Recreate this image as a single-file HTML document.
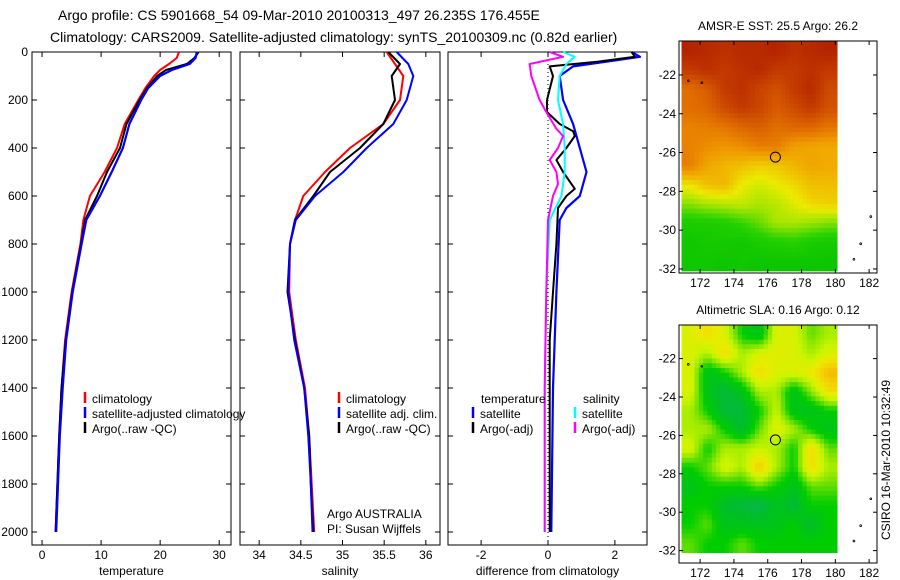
<!DOCTYPE html>
<html><head><meta charset="utf-8"><style>
html,body{margin:0;padding:0;background:#fff;}
svg{display:block;font-family:"Liberation Sans",sans-serif;}
text{font-size:12px;fill:#000;}
</style></head><body>
<svg id="fig" width="900" height="580" viewBox="0 0 900 580" xmlns="http://www.w3.org/2000/svg">
<text x="58" y="20" style="font-size:14px">Argo profile: CS 5901668_54 09-Mar-2010 20100313_497 26.235S 176.455E</text>
<text x="50" y="42" style="font-size:14px">Climatology: CARS2009. Satellite-adjusted climatology: synTS_20100309.nc (0.82d earlier)</text>
<text x="890" y="460" transform="rotate(-90 890 460)" text-anchor="middle">CSIRO 16-Mar-2010 10:32:49</text>
</svg>
<script>
// ---- profile data ----
const tDepth = [0,25,50,75,100,150,200,300,400,500,600,700,800,1000,1200,1400,1600,1800,2000];
const tempClim = [23.2,22.8,21.5,20,19,17.5,16.3,14,12.7,10.6,8.1,7,6.5,5,3.9,3.3,2.9,2.6,2.3];
const tempArgo = [26.5,25.8,24.5,21,19.5,17.8,16.5,14.3,13.2,11,9.3,7.3,6.6,5.1,4,3.3,2.9,2.6,2.3];
const tempSat  = [26.2,26,25,22,20,18,16.8,14.8,13.7,11.8,9.8,7.5,6.7,5.2,4.1,3.5,3.0,2.7,2.4];
const sDepth = [0,50,100,200,300,400,500,600,700,800,1000,1200,1400,1600,1800,2000];
const salClim = [35.53,35.63,35.73,35.69,35.49,35.09,34.79,34.53,34.43,34.37,34.36,34.44,34.55,34.6,34.63,34.66];
const salArgo = [35.55,35.69,35.59,35.63,35.49,35.21,34.85,34.65,34.43,34.37,34.34,34.43,34.54,34.6,34.62,34.65];
const salSat  = [35.65,35.79,35.85,35.77,35.61,35.29,35.01,34.67,34.44,34.37,34.35,34.42,34.54,34.59,34.62,34.64];
const dTDepth = [0,20,40,60,100,200,300,400,500,600,650,700,1000,1200,1400,2000];
const dTempSat = [2.5,2.75,1.75,0.75,0.35,0.45,0.75,0.95,1.15,0.95,0.55,0.35,0.25,0.2,0.15,0.1];
const dTADepth = [0,20,40,60,100,200,250,300,330,350,400,450,500,570,600,650,800,1000,1200,2000];
const dTempArgo = [2.5,2.6,1.5,0.05,0.15,-0.03,-0.03,0.35,0.75,0.8,0.55,0.25,0.45,0.8,0.55,0.3,0.25,0.15,0.05,0.05];
const dSDepth = [0,20,50,100,200,250,320,350,400,450,500,550,600,700,1000,1400,2000];
const dSalArgo = [0.05,0.45,-0.55,-0.5,-0.25,-0.05,0.25,0.45,0.3,0.05,0.25,0.3,0.15,0.0,-0.05,-0.1,-0.1];
const dSSDepth = [0,20,50,100,200,300,400,500,600,700,1000,1400,2000];
const dSalSat = [0.45,0.8,0.55,0.35,0.3,0.45,0.5,0.5,0.4,0.05,-0.05,-0.1,-0.1];
// ---- ticks ----
const depthTicks = [0,200,400,600,800,1000,1200,1400,1600,1800,2000];
const tempTicks = [0,10,20,30];
const salTicks = [34,34.5,35,35.5,36];
const salTickLabels = ["34","34.5","35","35.5","36"];
const diffTicks = [-2,0,2];
const lonTicks = [172,174,176,178,180,182];
const latTicks = [-22,-24,-26,-28,-30,-32];
// ---- map grids (rows north->south, 1 deg) ----
const sstGrid = [
[0.92,0.9,0.88,0.9,0.9,0.92,0.88,0.9,0.92],
[0.85,0.88,0.85,0.88,0.9,0.85,0.85,0.88,0.85],
[0.7,0.75,0.85,0.88,0.82,0.78,0.85,0.9,0.8],
[0.7,0.72,0.8,0.85,0.82,0.75,0.8,0.85,0.78],
[0.65,0.66,0.68,0.72,0.74,0.7,0.72,0.72,0.68],
[0.65,0.62,0.6,0.62,0.66,0.66,0.58,0.56,0.55],
[0.66,0.56,0.52,0.5,0.46,0.48,0.52,0.56,0.55],
[0.42,0.5,0.52,0.4,0.36,0.4,0.44,0.5,0.5],
[0.26,0.3,0.32,0.34,0.3,0.32,0.38,0.44,0.46],
[0.1,0.1,0.12,0.16,0.22,0.3,0.3,0.28,0.25],
[0.06,0.08,0.08,0.06,0.1,0.12,0.14,0.1,0.08],
[0.06,0.06,0.05,0.06,0.05,0.05,0.05,0.05,0.05]
];
const slaGrid = [
[0.6,0.7,0.6,0.3,0.2,0.6,0.6,0.4,0.5],
[0.6,0.5,0.72,0.5,0.6,0.62,0.6,0.5,0.6],
[0.6,0.2,0.3,0.5,0.72,0.6,0.6,0.65,0.85],
[0.6,0.2,0.1,0.2,0.5,0.5,0.2,0.45,0.7],
[0.5,0.3,0.1,0.1,0.3,0.55,0.2,0.2,0.3],
[0.5,0.5,0.3,0.12,0.4,0.62,0.5,0.3,0.2],
[0.6,0.3,0.5,0.5,0.55,0.5,0.3,0.72,0.4],
[0.3,0.4,0.6,0.5,0.78,0.5,0.3,0.72,0.5],
[0.2,0.3,0.3,0.3,0.4,0.3,0.2,0.4,0.4],
[0.3,0.3,0.15,0.1,0.05,0.2,0.1,0.3,0.3],
[0.3,0.4,0.2,0.2,0.2,0.2,0.3,0.12,0.3],
[0.4,0.3,0.3,0.4,0.3,0.3,0.3,0.3,0.3]
];
const argoLon = 176.455, argoLat = -26.235;

const NS = "http://www.w3.org/2000/svg";
const svg = document.getElementById('fig');
function mk(tag, attrs, parent){const e=document.createElementNS(NS,tag);for(const k in attrs)e.setAttribute(k,attrs[k]);(parent||svg).appendChild(e);return e;}
function txt(x,y,s,anchor,parent){const t=mk('text',{x:x,y:y,'text-anchor':anchor||'start'},parent);t.textContent=s;return t;}

const Y0=52, PXM=0.24, PB=545, PT=52;
function yD(d){return Y0+d*PXM;}

function panel(name,x0,x1,vmin,vmax,xt,xtl,xlabel){
  const g=mk('g',{});
  
  
  const sx=v=>x0+(v-vmin)/(vmax-vmin)*(x1-x0);
  const r=mk('rect',{x:x0,y:PT,width:x1-x0,height:PB-PT,fill:'none',stroke:'#000','stroke-width':1},g);
  
  
  xt.forEach((v,i)=>{
    const x=sx(v);
    mk('line',{x1:x,x2:x,y1:PB,y2:PB-5,stroke:'#000'},g);
    mk('line',{x1:x,x2:x,y1:PT,y2:PT+5,stroke:'#000'},g);
    const t=txt(x,559,xtl[i],'middle',g);
    
    
  });
  depthTicks.forEach(d=>{
    const y=yD(d);
    mk('line',{x1:x0,x2:x0+5,y1:y,y2:y,stroke:'#000'},g);
    mk('line',{x1:x1,x2:x1-5,y1:y,y2:y,stroke:'#000'},g);
  });
  const xl=txt((x0+x1)/2,575,xlabel,'middle',g);
  
  
  return {g,sx};
}
function line(p,depths,vals,color,w,name){
  const pts=depths.map((d,i)=>p.sx(vals[i]).toFixed(1)+','+yD(d).toFixed(1)).join(' ');
  const l=mk('polyline',{points:pts,fill:'none',stroke:color,'stroke-width':w,'stroke-linejoin':'round'},p.g);
  
  
}
function legend(p,x,y,color,label,name){
  mk('line',{x1:x,x2:x,y1:y-11,y2:y,stroke:color,'stroke-width':2.5},p.g);
  const t=txt(x+7,y,label,'start',p.g);
  
  
}

depthTicks.forEach(d=>{
  const t=txt(28,yD(d)+4,String(d),'end');
  
  
});

const p1=panel('temperature-panel',32,231,-1.7,32,tempTicks,tempTicks.map(String),'temperature');
line(p1,tDepth,tempClim,'#f00',2,'temp-climatology-line');
line(p1,tDepth,tempArgo,'#000',2,'temp-argo-line');
line(p1,tDepth,tempSat,'#00f',2.2,'temp-satellite-line');
legend(p1,85,403,'#f00','climatology','legend-climatology');
legend(p1,85,418,'#00f','satellite-adjusted climatology','legend-satellite-adjusted');
legend(p1,85,433,'#000','Argo(..raw -QC)','legend-argo');

const p2=panel('salinity-panel',240,440,33.77,36.17,salTicks,salTickLabels,'salinity');
line(p2,sDepth,salClim,'#f00',2,'sal-climatology-line');
line(p2,sDepth,salArgo,'#000',2,'sal-argo-line');
line(p2,sDepth,salSat,'#00f',2,'sal-satellite-line');
legend(p2,339,403,'#f00','climatology','legend-sal-climatology');
legend(p2,339,418,'#00f','satellite adj. clim.','legend-sal-satellite');
legend(p2,339,433,'#000','Argo(..raw -QC)','legend-sal-argo');
const a1=txt(327,518,'Argo AUSTRALIA','start',p2.g);


const a2=txt(327,533,'PI: Susan Wijffels','start',p2.g);



const p3=panel('difference-panel',448,647,-2.99,2.96,diffTicks,diffTicks.map(String),'difference from climatology');
mk('line',{x1:p3.sx(0),x2:p3.sx(0),y1:PT,y2:yD(2000)+10,stroke:'#000','stroke-dasharray':'1,3'},p3.g);
line(p3,dTDepth,dTempSat,'#00f',2.2,'diff-temp-satellite-line');
line(p3,dTADepth,dTempArgo,'#000',2,'diff-temp-argo-line');
line(p3,dSSDepth,dSalSat,'#0ff',2,'diff-sal-satellite-line');
line(p3,dSDepth,dSalArgo,'#f0f',2,'diff-sal-argo-line');
const lt=txt(481,403,'temperature','start',p3.g);


const ls=txt(583,403,'salinity','start',p3.g);


legend(p3,473,418,'#00f','satellite','legend-diff-temp-satellite');
legend(p3,473,433,'#000','Argo(-adj)','legend-diff-temp-argo');
legend(p3,575,418,'#0ff','satellite','legend-diff-sal-satellite');
legend(p3,575,433,'#f0f','Argo(-adj)','legend-diff-sal-argo');

const sstStops=[[0,[0,192,0]],[0.15,[40,210,0]],[0.3,[170,230,0]],[0.4,[235,235,0]],[0.5,[240,190,0]],[0.6,[240,150,0]],[0.7,[225,110,0]],[0.8,[205,75,0]],[0.92,[180,35,0]]];
const slaStops=[[0,[16,176,96]],[0.15,[0,190,40]],[0.3,[0,205,0]],[0.45,[140,230,0]],[0.55,[200,245,0]],[0.65,[235,235,0]],[0.78,[245,205,0]],[0.9,[240,170,0]]];
function cmap(stops,v){
  if(v<=stops[0][0])return stops[0][1];
  for(let i=1;i<stops.length;i++){if(v<=stops[i][0]){const a=stops[i-1],b=stops[i],t=(v-a[0])/(b[0]-a[0]);return a[1].map((c,k)=>Math.round(c+(b[1][k]-c)*t));}}
  return stops[stops.length-1][1];
}
function sample(grid,r,c){
  const nr=grid.length,nc=grid[0].length;
  r=Math.max(0,Math.min(nr-1,r));c=Math.max(0,Math.min(nc-1,c));
  const r0=Math.floor(r),c0=Math.floor(c),r1=Math.min(nr-1,r0+1),c1=Math.min(nc-1,c0+1);
  const fr=r-r0,fc=c-c0;
  const top=grid[r0][c0]*(1-fc)+grid[r0][c1]*fc;
  const bot=grid[r1][c0]*(1-fc)+grid[r1][c1]*fc;
  return top*(1-fr)+bot*fr;
}

function mapPanel(name,top,bottom,latTop,pxLat,grid,stops,title){
  const g=mk('g',{});
  
  
  const L=679,R=877, lonL=170.75, pxLon=16.9;
  const sx=lon=>L+(lon-lonL)*pxLon;
  const sy=lat=>top+(latTop-lat)*pxLat;
  const gLon0=170.9,gLon1=180.1,gLat0=latTop-0.02,gLat1=-32.1;
  const nr=grid.length,nc=grid[0].length,SUB=4;
  const dLon=(gLon1-gLon0)/(nc*SUB),dLat=(gLat0-gLat1)/(nr*SUB);
  for(let ri=0;ri<nr*SUB;ri++){
    for(let ci=0;ci<nc*SUB;ci++){
      const v=sample(grid,(ri+0.5)/SUB-0.5,(ci+0.5)/SUB-0.5);
      const x=sx(gLon0+ci*dLon),y=sy(gLat0-ri*dLat);
      const c=cmap(stops,v);
      const cell=mk('rect',{x:x.toFixed(2),y:y.toFixed(2),width:(dLon*pxLon+0.5).toFixed(2),height:(dLat*pxLat+0.5).toFixed(2),fill:'rgb('+c.join(',')+')'},g);
      
      
    }
  }
  const fr=mk('rect',{x:L,y:top,width:R-L,height:bottom-top,fill:'none',stroke:'#000'},g);
  
  
  lonTicks.forEach(lon=>{
    const x=sx(lon);
    mk('line',{x1:x,x2:x,y1:top,y2:top+4,stroke:'#000'},g);
    mk('line',{x1:x,x2:x,y1:bottom,y2:bottom-4,stroke:'#000'},g);
    const t=txt(x,bottom+14,String(lon),'middle',g);
    
    
  });
  latTicks.forEach(lat=>{
    const y=sy(lat);
    mk('line',{x1:L,x2:L+4,y1:y,y2:y,stroke:'#000'},g);
    mk('line',{x1:R,x2:R-4,y1:y,y2:y,stroke:'#000'},g);
    const t=txt(L-3,y+4,String(lat),'end',g);
    
    
  });
  [[181.1,-31.5],[181.5,-30.7],[182.1,-29.3],[171.3,-22.3],[172.1,-22.4]].forEach(p=>{
    mk('circle',{cx:sx(p[0]),cy:sy(p[1]),r:0.9,fill:'none',stroke:'#000','stroke-width':0.8},g);
  });
  const c=mk('circle',{cx:sx(argoLon),cy:sy(argoLat),r:5,fill:'none',stroke:'#000','stroke-width':1},g);
  
  
  const t=txt((L+R)/2,top-11,title,'middle',g);
  
  
}
mapPanel('sst-map',41,273,-20.25,19.4,sstGrid,sstStops,'AMSR-E SST: 25.5 Argo: 26.2');
mapPanel('sla-map',325,563,-20.25,19.2,slaGrid,slaStops,'Altimetric SLA: 0.16 Argo: 0.12');
</script>
</body></html>
